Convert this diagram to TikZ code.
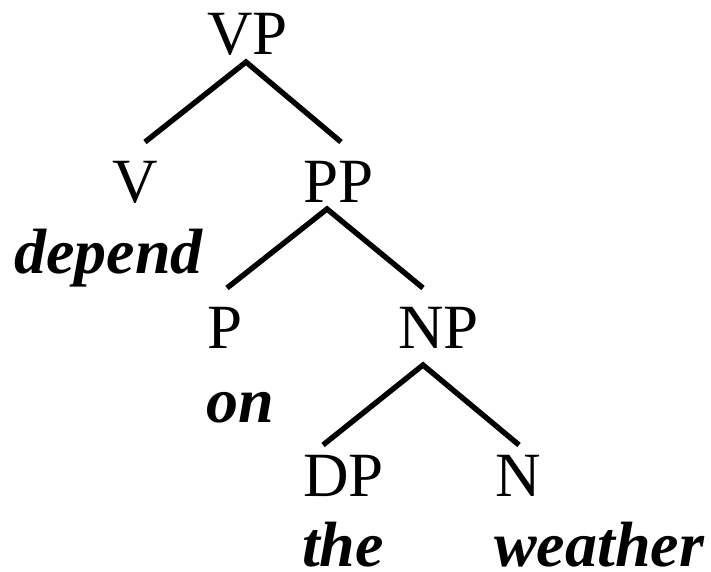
\documentclass[tikz,border=0pt]{standalone}
\usepackage{fontspec}
\setmainfont{Liberation Serif}
\begin{document}
\begin{tikzpicture}[x=1pt,y=-1pt,
  cat/.style={inner sep=0pt,anchor=base west,font=\fontsize{63}{70}\selectfont},
  word/.style={inner sep=0pt,anchor=base west,font=\fontsize{64}{70}\selectfont\bfseries\itshape},
  branch/.style={line width=5.4pt}]
\useasboundingbox (0,0) rectangle (711,572);
% categories
\node[cat] (VP) at (207,55) {VP};
\node[cat] (V) at (112,202) {V};
\node[cat] (PP) at (303,202) {PP};
\node[cat] (P) at (207,348) {P};
\node[cat] (NP) at (398,348) {NP};
\node[cat] (DP) at (303,496) {DP};
\node[cat] (N) at (495,496) {N};
% words
\node[word] (depend) at (14,273) {depend};
\node[word] (on) at (206,422) {on};
\node[word] (the) at (302,566) {the};
\node[word] (weather) at (494,566) {weather};
% connector end points
\coordinate (vpa) at (246,62);
\coordinate (ve) at (145,142);
\coordinate (ppe) at (341,142);
\coordinate (ppa) at (327,209);
\coordinate (pe) at (227,288);
\coordinate (npe) at (423,288);
\coordinate (npa) at (423,365);
\coordinate (dpe) at (323,445);
\coordinate (ne) at (519,445);
\draw[branch] (ve) -- (vpa) -- (ppe);
\draw[branch] (pe) -- (ppa) -- (npe);
\draw[branch] (dpe) -- (npa) -- (ne);
\end{tikzpicture}
\end{document}
